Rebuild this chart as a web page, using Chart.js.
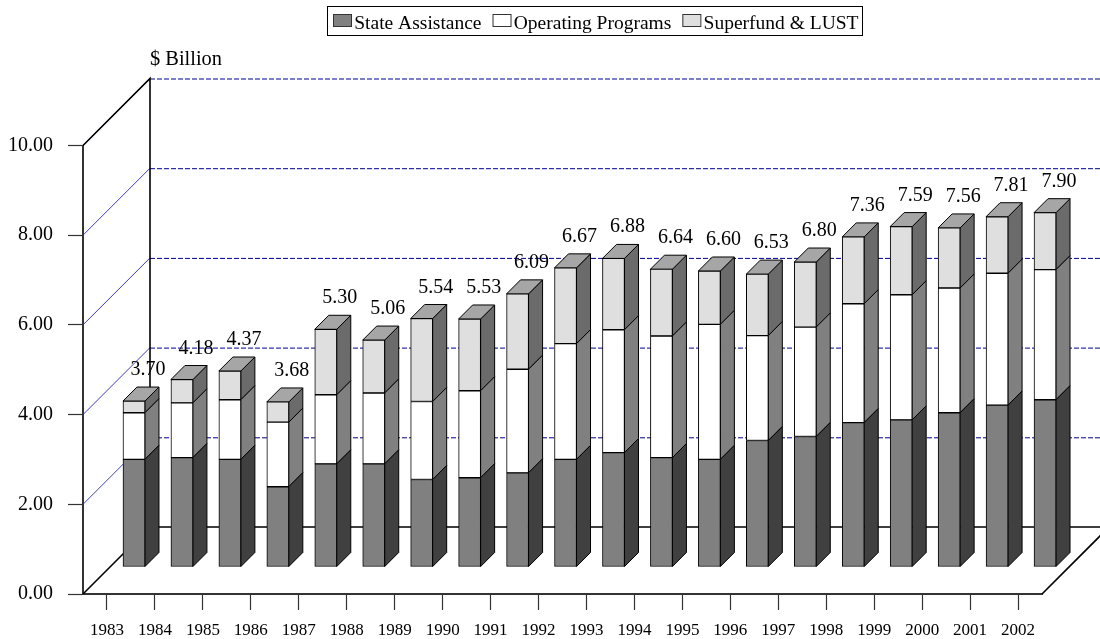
<!DOCTYPE html>
<html><head><meta charset="utf-8">
<style>html,body{margin:0;padding:0;background:#fff}canvas{display:block}</style>
<script src="https://cdn.jsdelivr.net/npm/chart.js@4/dist/chart.umd.js"></script>
</head><body>
<canvas id="c" width="1100" height="639"></canvas>
<script>
const years = ['1983','1984','1985','1986','1987','1988','1989','1990','1991','1992','1993','1994','1995','1996','1997','1998','1999','2000','2001','2002'];
const stateAssistance = [2.40,2.44,2.40,1.79,2.30,2.30,1.95,1.99,2.10,2.40,2.55,2.44,2.40,2.82,2.91,3.22,3.28,3.44,3.61,3.73];
const operatingPrograms = [1.04,1.22,1.33,1.44,1.54,1.58,1.74,1.94,2.31,2.58,2.74,2.71,3.01,2.34,2.44,2.65,2.79,2.78,2.94,2.90];
const superfundLust = [0.26,0.52,0.64,0.45,1.46,1.18,1.85,1.60,1.68,1.69,1.59,1.49,1.19,1.37,1.45,1.49,1.52,1.34,1.26,1.27];
const totalLabels = ['3.70','4.18','4.37','3.68','5.30','5.06','5.54','5.53','6.09','6.67','6.88','6.64','6.60','6.53','6.80','7.36','7.59','7.56','7.81','7.90'];
const gridValues = [2,4,6,8,10];

const SERIF = '"Liberation Serif", "Times New Roman", serif';
const WALL = 67, SHIFT = 27, DEPTH = 14;
const sideColors = ['#404040','#808080','#6b6b6b'];
const topColor = '#a6a6a6';

const threeD = {
  id:'threeD',
  afterLayout(chart){
    const lg = chart.legend;
    lg.left = 322; lg.right = 1090; lg.top = 2; lg.bottom = lg.top + lg.height;
  },
  beforeDatasetsDraw(chart){
    const ctx = chart.ctx, y = chart.scales.y, a = chart.chartArea;
    const L = a.left, R = a.right, far = chart.width;
    ctx.save();
    gridValues.forEach(v=>{
      const py = y.getPixelForValue(v);
      ctx.strokeStyle = '#2a2aa8'; ctx.lineWidth = 0.9; ctx.setLineDash([]);
      ctx.beginPath(); ctx.moveTo(L,py); ctx.lineTo(L+WALL,py-WALL); ctx.stroke();
      ctx.strokeStyle = '#000090'; ctx.lineWidth = 1; ctx.setLineDash([5,2]);
      ctx.beginPath(); ctx.moveTo(L+WALL,py-WALL+0.5); ctx.lineTo(far,py-WALL+0.5); ctx.stroke();
    });
    ctx.setLineDash([]);
    ctx.strokeStyle = '#000'; ctx.lineWidth = 1.6;
    const y0 = y.getPixelForValue(0), y10 = y.getPixelForValue(10);
    ctx.beginPath();
    ctx.moveTo(L,y10); ctx.lineTo(L+WALL,y10-WALL); ctx.lineTo(L+WALL,y0-WALL);
    ctx.moveTo(L,y0); ctx.lineTo(L+WALL,y0-WALL); ctx.lineTo(far,y0-WALL);
    ctx.moveTo(R,y0); ctx.lineTo(R+WALL,y0-WALL);
    ctx.stroke();
    ctx.restore();
  },
  beforeDatasetDraw(chart,args){
    const ctx = chart.ctx, meta = args.meta, i = args.index;
    ctx.save();
    ctx.translate(SHIFT,-SHIFT);
    ctx.strokeStyle = '#000'; ctx.lineWidth = 1;
    meta.data.forEach(b=>{
      const p = b.getProps(['x','y','base','width'],true);
      const xr = p.x + p.width/2, xl = p.x - p.width/2;
      ctx.fillStyle = sideColors[i];
      ctx.beginPath();
      ctx.moveTo(xr,p.y); ctx.lineTo(xr+DEPTH,p.y-DEPTH); ctx.lineTo(xr+DEPTH,p.base-DEPTH); ctx.lineTo(xr,p.base); ctx.closePath();
      ctx.fill(); ctx.stroke();
      if(i === chart.data.datasets.length-1){
        ctx.fillStyle = topColor;
        ctx.beginPath();
        ctx.moveTo(xl,p.y); ctx.lineTo(xl+DEPTH,p.y-DEPTH); ctx.lineTo(xr+DEPTH,p.y-DEPTH); ctx.lineTo(xr,p.y); ctx.closePath();
        ctx.fill(); ctx.stroke();
      }
    });
  },
  afterDatasetDraw(chart){ chart.ctx.restore(); },
  afterDatasetsDraw(chart){
    const ctx = chart.ctx, n = chart.data.datasets.length-1;
    const top = chart.getDatasetMeta(n).data;
    ctx.save();
    ctx.fillStyle = '#000'; ctx.font = '20px '+SERIF; ctx.textAlign='center'; ctx.textBaseline='alphabetic';
    top.forEach((b,k)=>{
      const p = b.getProps(['x','y'],true);
      ctx.fillText(totalLabels[k], p.x+SHIFT+DEPTH, p.y-SHIFT-DEPTH-12);
    });
    ctx.textAlign='left';
    ctx.font = '20.4px '+SERIF;
    ctx.fillText('$ Billion', 150, 65);
    ctx.restore();
  },
  afterDraw(chart){
    const ctx = chart.ctx, lg = chart.legend;
    ctx.save();
    ctx.strokeStyle='#000'; ctx.lineWidth=1;
    ctx.strokeRect(327.5,6.5,535,29);
    lg.legendHitBoxes.forEach((h,i)=>{
      ctx.fillStyle = chart.data.datasets[i].backgroundColor;
      ctx.strokeStyle = '#333';
      ctx.fillRect(h.left-1,14,18,12);
      ctx.strokeRect(h.left-0.5,14.5,18,12);
    });
    ctx.restore();
  }
};

new Chart(document.getElementById('c'),{
  type:'bar',
  data:{labels:years,datasets:[
    {label:'State Assistance',data:stateAssistance,backgroundColor:'#808080',borderColor:'#000',borderWidth:1,borderSkipped:false,barThickness:22,clip:false},
    {label:'Operating Programs',data:operatingPrograms,backgroundColor:'#ffffff',borderColor:'#000',borderWidth:1,borderSkipped:false,barThickness:22,clip:false},
    {label:'Superfund & LUST',data:superfundLust,backgroundColor:'#dfdfdf',borderColor:'#000',borderWidth:1,borderSkipped:false,barThickness:22,clip:false}
  ]},
  options:{
    responsive:false,animation:false,
    layout:{padding:{top:104,right:58,left:0,bottom:0}},
    plugins:{
      legend:{display:true,position:'top',align:'start',
        labels:{boxWidth:10.5,boxHeight:12,padding:12,color:'#000',font:{family:SERIF,size:19.5},
          generateLabels(chart){
            return chart.data.datasets.map((d,i)=>({text:d.label,fillStyle:'rgba(0,0,0,0)',strokeStyle:'rgba(0,0,0,0)',lineWidth:0,fontColor:'#000',hidden:false,datasetIndex:i}));
          }}},
      tooltip:{enabled:false}
    },
    scales:{
      x:{stacked:true,
        afterFit(s){s.height=45;},
        grid:{drawOnChartArea:false,offset:false,tickLength:16,color:'#333',tickWidth:1.2},
        border:{color:'#333',width:2},
        ticks:{color:'#000',padding:10,maxRotation:0,autoSkip:false,font:{family:SERIF,size:17}}},
      y:{stacked:true,min:0,max:10,
        afterFit(s){s.width=83;},
        grid:{drawOnChartArea:false,tickLength:15,color:'#333',tickWidth:1.2},
        border:{color:'#333',width:2},
        ticks:{stepSize:2,color:'#000',padding:15,font:{family:SERIF,size:20},callback:v=>v.toFixed(2)}}
    }
  },
  plugins:[threeD]
});
</script>
</body></html>
